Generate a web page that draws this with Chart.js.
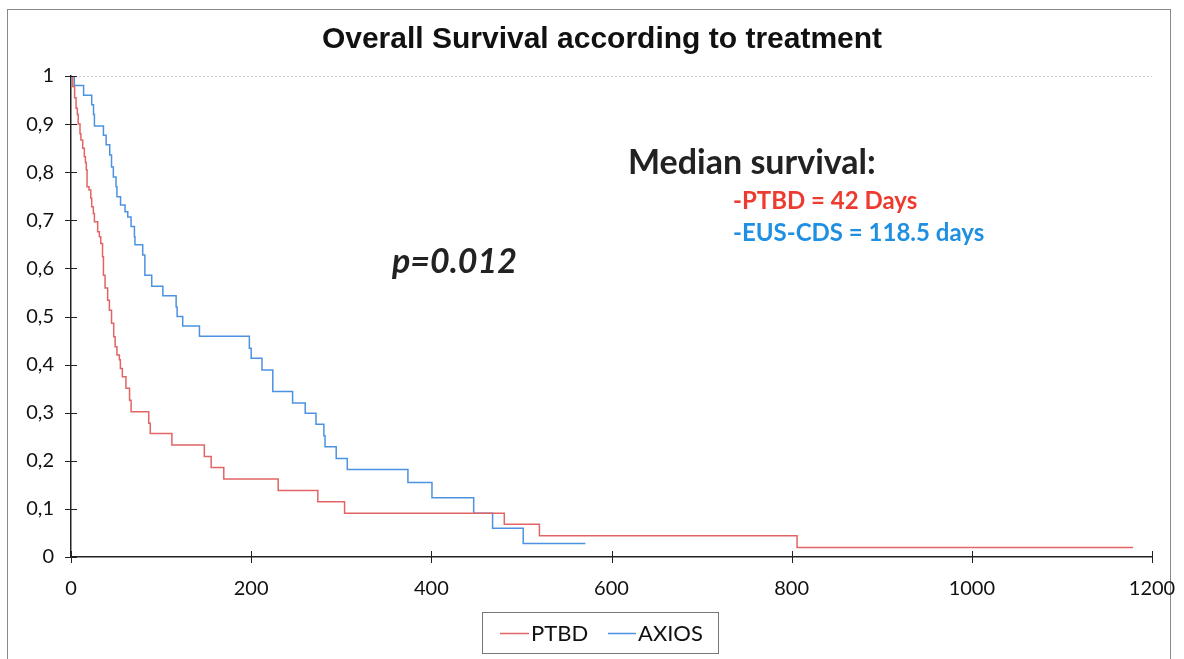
<!DOCTYPE html>
<html>
<head>
<meta charset="utf-8">
<script src="https://cdn.jsdelivr.net/npm/chart.js@4/dist/chart.umd.min.js"></script>
<style>
  html, body { margin: 0; padding: 0; background: #fff; }
  #wrap { position: relative; width: 1184px; height: 659px; overflow: hidden; }
  #frame { position: absolute; left: 7px; top: 9px; width: 1162px; height: 700px; border: 1px solid #8a8a8a; }
  canvas { position: absolute; left: 0; top: 0; }
</style>
</head>
<body>
<div id="wrap">
  <div id="frame"></div>
  <canvas id="km" width="1184" height="659"></canvas>
</div>
<script>
// Kaplan-Meier steps (day of event, survival after it)
const ptbdDays = [0, 2, 4, 5.6, 7, 8, 10, 11, 13, 14.8, 16, 17, 17.8, 20, 22, 23, 24.8, 26, 29.6, 31.5, 33, 35, 36, 37.8, 40.7, 42.6, 45, 47.4, 49, 51, 53.7, 54.8, 57, 61, 65, 66.7, 86.3, 88, 112, 148, 155.6, 169.6, 230, 274, 303.7, 481, 520, 806, 1179];
const ptbdSurv = [1, 0.978, 0.955, 0.933, 0.92, 0.90, 0.88, 0.867, 0.85, 0.832, 0.82, 0.805, 0.77, 0.763, 0.746, 0.728, 0.714, 0.697, 0.676, 0.666, 0.652, 0.624, 0.586, 0.559, 0.534, 0.513, 0.486, 0.458, 0.437, 0.42, 0.41, 0.392, 0.375, 0.351, 0.326, 0.302, 0.278, 0.257, 0.233, 0.209, 0.186, 0.162, 0.138, 0.115, 0.091, 0.068, 0.044, 0.020, 0.020];

const axiosDays = [0, 3.7, 14, 23, 25, 26, 36, 39, 43, 45, 47, 50, 51, 55, 60, 63, 66.7, 70.4, 71, 79.6, 82, 89.6, 102, 116.7, 117.8, 124, 142.6, 198, 200, 212, 224, 246, 260, 272, 280.7, 282, 294.4, 306.7, 374, 400.7, 447, 468, 502, 571];
const axiosSurv = [1, 0.98, 0.96, 0.94, 0.92, 0.896, 0.877, 0.857, 0.836, 0.811, 0.79, 0.77, 0.749, 0.732, 0.718, 0.707, 0.687, 0.666, 0.649, 0.628, 0.586, 0.563, 0.543, 0.52, 0.50, 0.48, 0.459, 0.434, 0.413, 0.389, 0.344, 0.32, 0.299, 0.276, 0.252, 0.229, 0.205, 0.182, 0.155, 0.123, 0.091, 0.06, 0.028, 0.028];

const seriesNames = ['PTBD', 'AXIOS'];
const seriesColors = ['#e26464', '#4d92e0'];
const xTicks = [0, 200, 400, 600, 800, 1000, 1200];
const yTicks = [0, 0.1, 0.2, 0.3, 0.4, 0.5, 0.6, 0.7, 0.8, 0.9, 1];

const toPoints = (xs, ys) => xs.map((x, i) => ({ x: x, y: ys[i] }));
const labelFont = { family: 'Lato, "Open Sans", sans-serif', size: 20 };

// ticks crossing both axes, plus faint top border of the plot area
const crossTicks = {
    id: 'crossTicks',
    afterDraw(chart) {
        const { ctx, chartArea, scales } = chart;
        ctx.save();
        ctx.strokeStyle = '#d0d0d0';
        ctx.lineWidth = 1;
        ctx.setLineDash([2, 2]);
        ctx.beginPath();
        ctx.moveTo(chartArea.left, chartArea.top + 0.5);
        ctx.lineTo(chartArea.right, chartArea.top + 0.5);
        ctx.stroke();
        ctx.setLineDash([]);
        ctx.strokeStyle = '#222';
        ctx.lineWidth = 1;
        ctx.beginPath();
        yTicks.forEach(v => {
            const py = Math.round(scales.y.getPixelForValue(v)) + 0.5;
            ctx.moveTo(chartArea.left - 6, py);
            ctx.lineTo(chartArea.left + 6, py);
        });
        xTicks.forEach(v => {
            const px = Math.round(scales.x.getPixelForValue(v)) + 0.5;
            ctx.moveTo(px, chartArea.bottom - 6);
            ctx.lineTo(px, chartArea.bottom + 6);
        });
        ctx.stroke();
        ctx.restore();
    }
};

// title, annotations and boxed legend
const overlay = {
    id: 'overlay',
    afterDraw(chart) {
        const ctx = chart.ctx;
        ctx.save();
        ctx.textBaseline = 'middle';
        ctx.textAlign = 'center';
        ctx.fillStyle = '#111';
        ctx.font = 'bold 30px "Liberation Sans", Arial, sans-serif';
        ctx.fillText('Overall Survival according to treatment', 602, 40);

        ctx.textAlign = 'left';
        ctx.fillStyle = '#222';
        ctx.font = 'bold 34px Lato, "Open Sans", sans-serif';
        ctx.fillText('Median survival:', 628, 163);
        ctx.font = 'bold 24px Lato, "Open Sans", sans-serif';
        ctx.fillStyle = '#ee3b30';
        ctx.fillText('-PTBD = 42 Days', 733, 201);
        ctx.fillStyle = '#1f8fe2';
        ctx.fillText('-EUS-CDS = 118.5 days', 733, 233);
        ctx.fillStyle = '#222';
        ctx.font = 'italic bold 34px Lato, "Open Sans", sans-serif';
        ctx.fillText('p=0.012', 392, 262);

        // legend
        ctx.strokeStyle = '#777';
        ctx.lineWidth = 1;
        ctx.strokeRect(482.5, 612.5, 236, 41);
        ctx.font = '22px Lato, "Open Sans", sans-serif';
        const items = [[500, 531], [608, 638]];
        items.forEach((it, i) => {
            ctx.strokeStyle = seriesColors[i];
            ctx.lineWidth = 1.5;
            ctx.beginPath();
            ctx.moveTo(it[0], 633.5);
            ctx.lineTo(it[1] - 2, 633.5);
            ctx.stroke();
            ctx.fillStyle = '#111';
            ctx.fillText(seriesNames[i], it[1], 634);
        });
        ctx.restore();
    }
};

new Chart(document.getElementById('km'), {
    type: 'line',
    data: {
        datasets: [
            { label: seriesNames[0], data: toPoints(ptbdDays, ptbdSurv), borderColor: seriesColors[0], borderWidth: 1.5, stepped: true, pointRadius: 0, fill: false },
            { label: seriesNames[1], data: toPoints(axiosDays, axiosSurv), borderColor: seriesColors[1], borderWidth: 1.5, stepped: true, pointRadius: 0, fill: false }
        ]
    },
    options: {
        responsive: false,
        animation: false,
        layout: { padding: { top: 76, right: 32, bottom: 0, left: 0 } },
        plugins: { legend: { display: false }, tooltip: { enabled: false } },
        scales: {
            x: {
                type: 'linear', min: 0, max: 1200,
                afterBuildTicks: s => { s.ticks = xTicks.map(v => ({ value: v })); },
                afterFit: s => { s.height = 102; s.paddingLeft = 0; s.paddingRight = 0; },
                grid: { display: false },
                border: { display: true, color: '#222', width: 1.5 },
                ticks: { padding: 12, color: '#111', font: labelFont, callback: v => String(v) }
            },
            y: {
                type: 'linear', min: 0, max: 1,
                afterBuildTicks: s => { s.ticks = yTicks.map(v => ({ value: v })); },
                afterFit: s => { s.width = 71; s.paddingTop = 0; s.paddingBottom = 0; },
                grid: { display: false },
                border: { display: true, color: '#222', width: 1.5 },
                ticks: {
                    padding: 9, color: '#111', font: labelFont,
                    callback: v => (v === 0 || v === 1) ? String(v) : v.toFixed(1).replace('.', ',')
                }
            }
        }
    },
    plugins: [crossTicks, overlay]
});
</script>
</body>
</html>
